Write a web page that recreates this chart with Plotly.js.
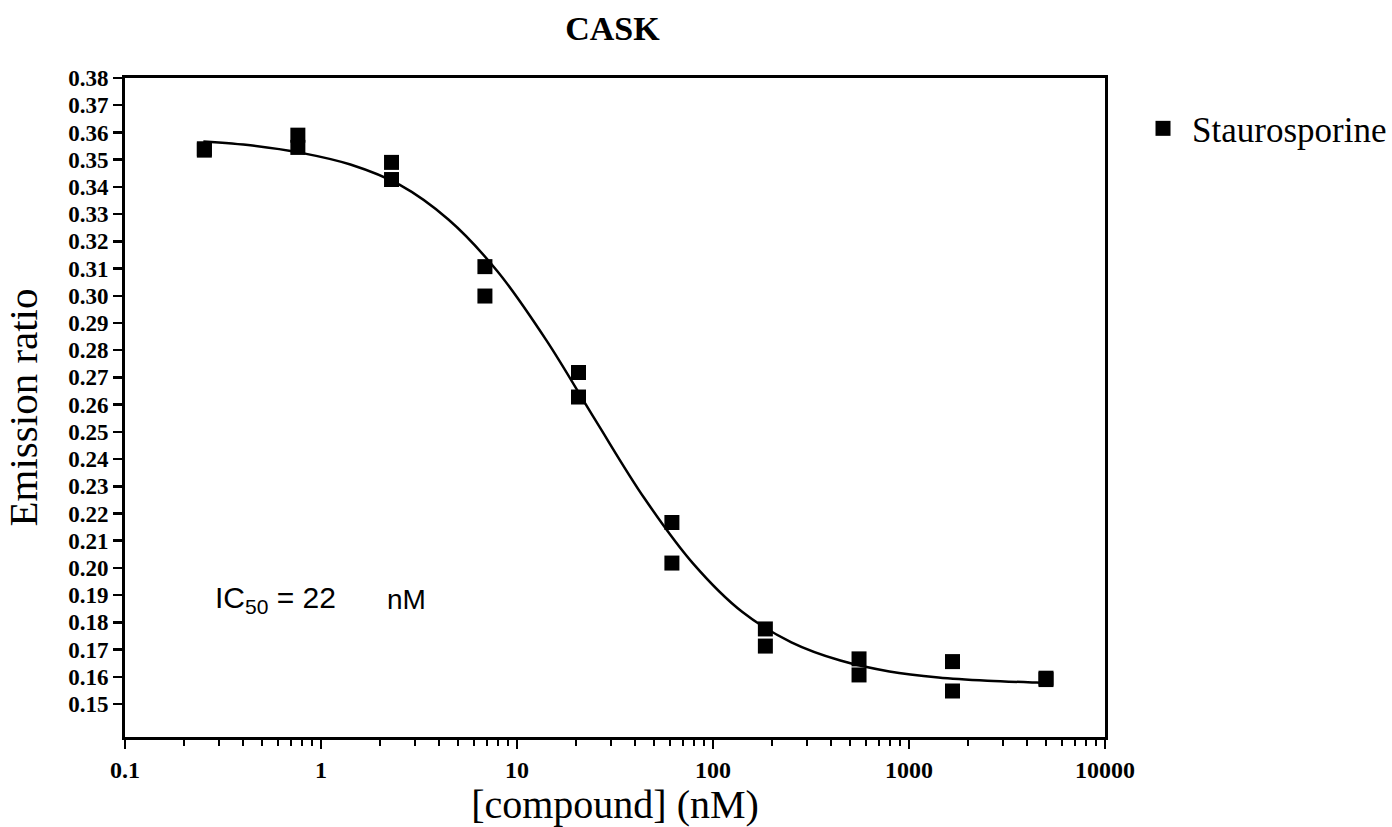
<!DOCTYPE html>
<html>
<head>
<meta charset="utf-8">
<script src="https://cdn.plot.ly/plotly-3.0.1.min.js"></script>
<style>
  html, body { margin: 0; padding: 0; background: #fff; }
  #chart { width: 1392px; height: 827px; }
</style>
</head>
<body>
<div id="chart"></div>
<script>
// Measured data points (concentration in nM, emission ratio)
const concentrations = [0.254, 0.254, 0.762, 0.762, 2.29, 2.29, 6.86, 6.86, 20.6, 20.6,
                        61.7, 61.7, 185, 185, 556, 556, 1667, 1667, 5000, 5000];
const emissionRatio  = [0.354, 0.3535, 0.359, 0.3545, 0.349, 0.3427, 0.3107, 0.2999, 0.2718, 0.2628,
                        0.2167, 0.2018, 0.1776, 0.1713, 0.1666, 0.1607, 0.1656, 0.1548, 0.1595, 0.1590];

// Fitted curve
const curveX = [0.251, 0.447, 0.794, 1.413, 2.512, 4.467, 7.943, 14.13, 25.12, 44.67,
                79.43, 141.3, 251.2, 446.7, 794.3, 1413, 2512, 4467, 5000];
const curveY = [0.3567, 0.3552, 0.3525, 0.3482, 0.3408, 0.3280, 0.3090, 0.2836, 0.2543, 0.2256,
                0.2015, 0.1838, 0.1727, 0.1660, 0.1620, 0.1598, 0.1586, 0.1579, 0.1578];

// Axis labels
const xTickVals = [0.1, 1, 10, 100, 1000, 10000];
const xTickText = ["0.1", "1", "10", "100", "1000", "10000"];
const yTickVals = [0.15, 0.16, 0.17, 0.18, 0.19, 0.20, 0.21, 0.22, 0.23, 0.24, 0.25, 0.26,
                   0.27, 0.28, 0.29, 0.30, 0.31, 0.32, 0.33, 0.34, 0.35, 0.36, 0.37, 0.38];

const seriesName = "Staurosporine";
const chartTitle = "CASK";
const ic50Text = "IC<sub>50</sub> = 22";
const ic50Unit = "nM";

const serif = "Liberation Serif, Times New Roman, serif";
const sans = "Liberation Sans, Arial, sans-serif";

const traces = [
  {
    x: curveX, y: curveY, mode: 'lines', type: 'scatter',
    line: { color: '#000', width: 2.5, shape: 'spline', smoothing: 1 },
    showlegend: false, hoverinfo: 'skip'
  },
  {
    x: concentrations, y: emissionRatio, mode: 'markers', type: 'scatter',
    name: seriesName,
    marker: { symbol: 'square', size: 15, color: '#000' }
  }
];

const layout = {
  width: 1392, height: 827,
  margin: { l: 125, r: 287, t: 78, b: 90, autoexpand: false },
  paper_bgcolor: '#fff', plot_bgcolor: '#fff',
  title: {
    text: '<b>' + chartTitle + '</b>',
    font: { family: serif, size: 34, color: '#000' },
    x: 0.44, xanchor: 'center', y: 0.966, yanchor: 'middle'
  },
  xaxis: {
    type: 'log',
    range: [-1, 4],
    tickvals: xTickVals, ticktext: xTickText,
    ticks: 'outside', ticklen: 9, tickwidth: 2.5, tickcolor: '#000',
    minor: { ticks: 'outside', ticklen: 6, tickwidth: 2, tickcolor: '#000', dtick: 'D1', showgrid: false },
    showline: true, linecolor: '#000', linewidth: 3, mirror: true,
    showgrid: false, zeroline: false,
    tickfont: { family: serif, size: 24, color: '#000', weight: 'bold' },
    title: { text: '[compound] (nM)', font: { family: serif, size: 40, color: '#000' }, standoff: 15 }
  },
  yaxis: {
    range: [0.1379, 0.38],
    tickvals: yTickVals, tickformat: '.2f',
    ticks: 'outside', ticklen: 9, tickwidth: 2.5, tickcolor: '#000',
    showline: true, linecolor: '#000', linewidth: 3, mirror: true,
    showgrid: false, zeroline: false,
    tickfont: { family: serif, size: 23, color: '#000', weight: 'bold' },
    title: { text: 'Emission ratio', font: { family: serif, size: 41, color: '#000' }, standoff: 22 }
  },
  legend: {
    x: 1.0296, xanchor: 'left', y: 0.968, yanchor: 'top',
    font: { family: serif, size: 35, color: '#000' },
    bgcolor: 'rgba(0,0,0,0)', itemsizing: 'trace', itemwidth: 48
  },
  annotations: [
    { xref: 'paper', yref: 'paper', x: 0.0895, y: 0.208, xanchor: 'left', yanchor: 'middle',
      text: ic50Text, showarrow: false, font: { family: sans, size: 30, color: '#000' } },
    { xref: 'paper', yref: 'paper', x: 0.2653, y: 0.208, xanchor: 'left', yanchor: 'middle',
      text: ic50Unit, showarrow: false, font: { family: sans, size: 28, color: '#000' } }
  ]
};

Plotly.newPlot('chart', traces, layout, { displayModeBar: false, staticPlot: true });
</script>
</body>
</html>
